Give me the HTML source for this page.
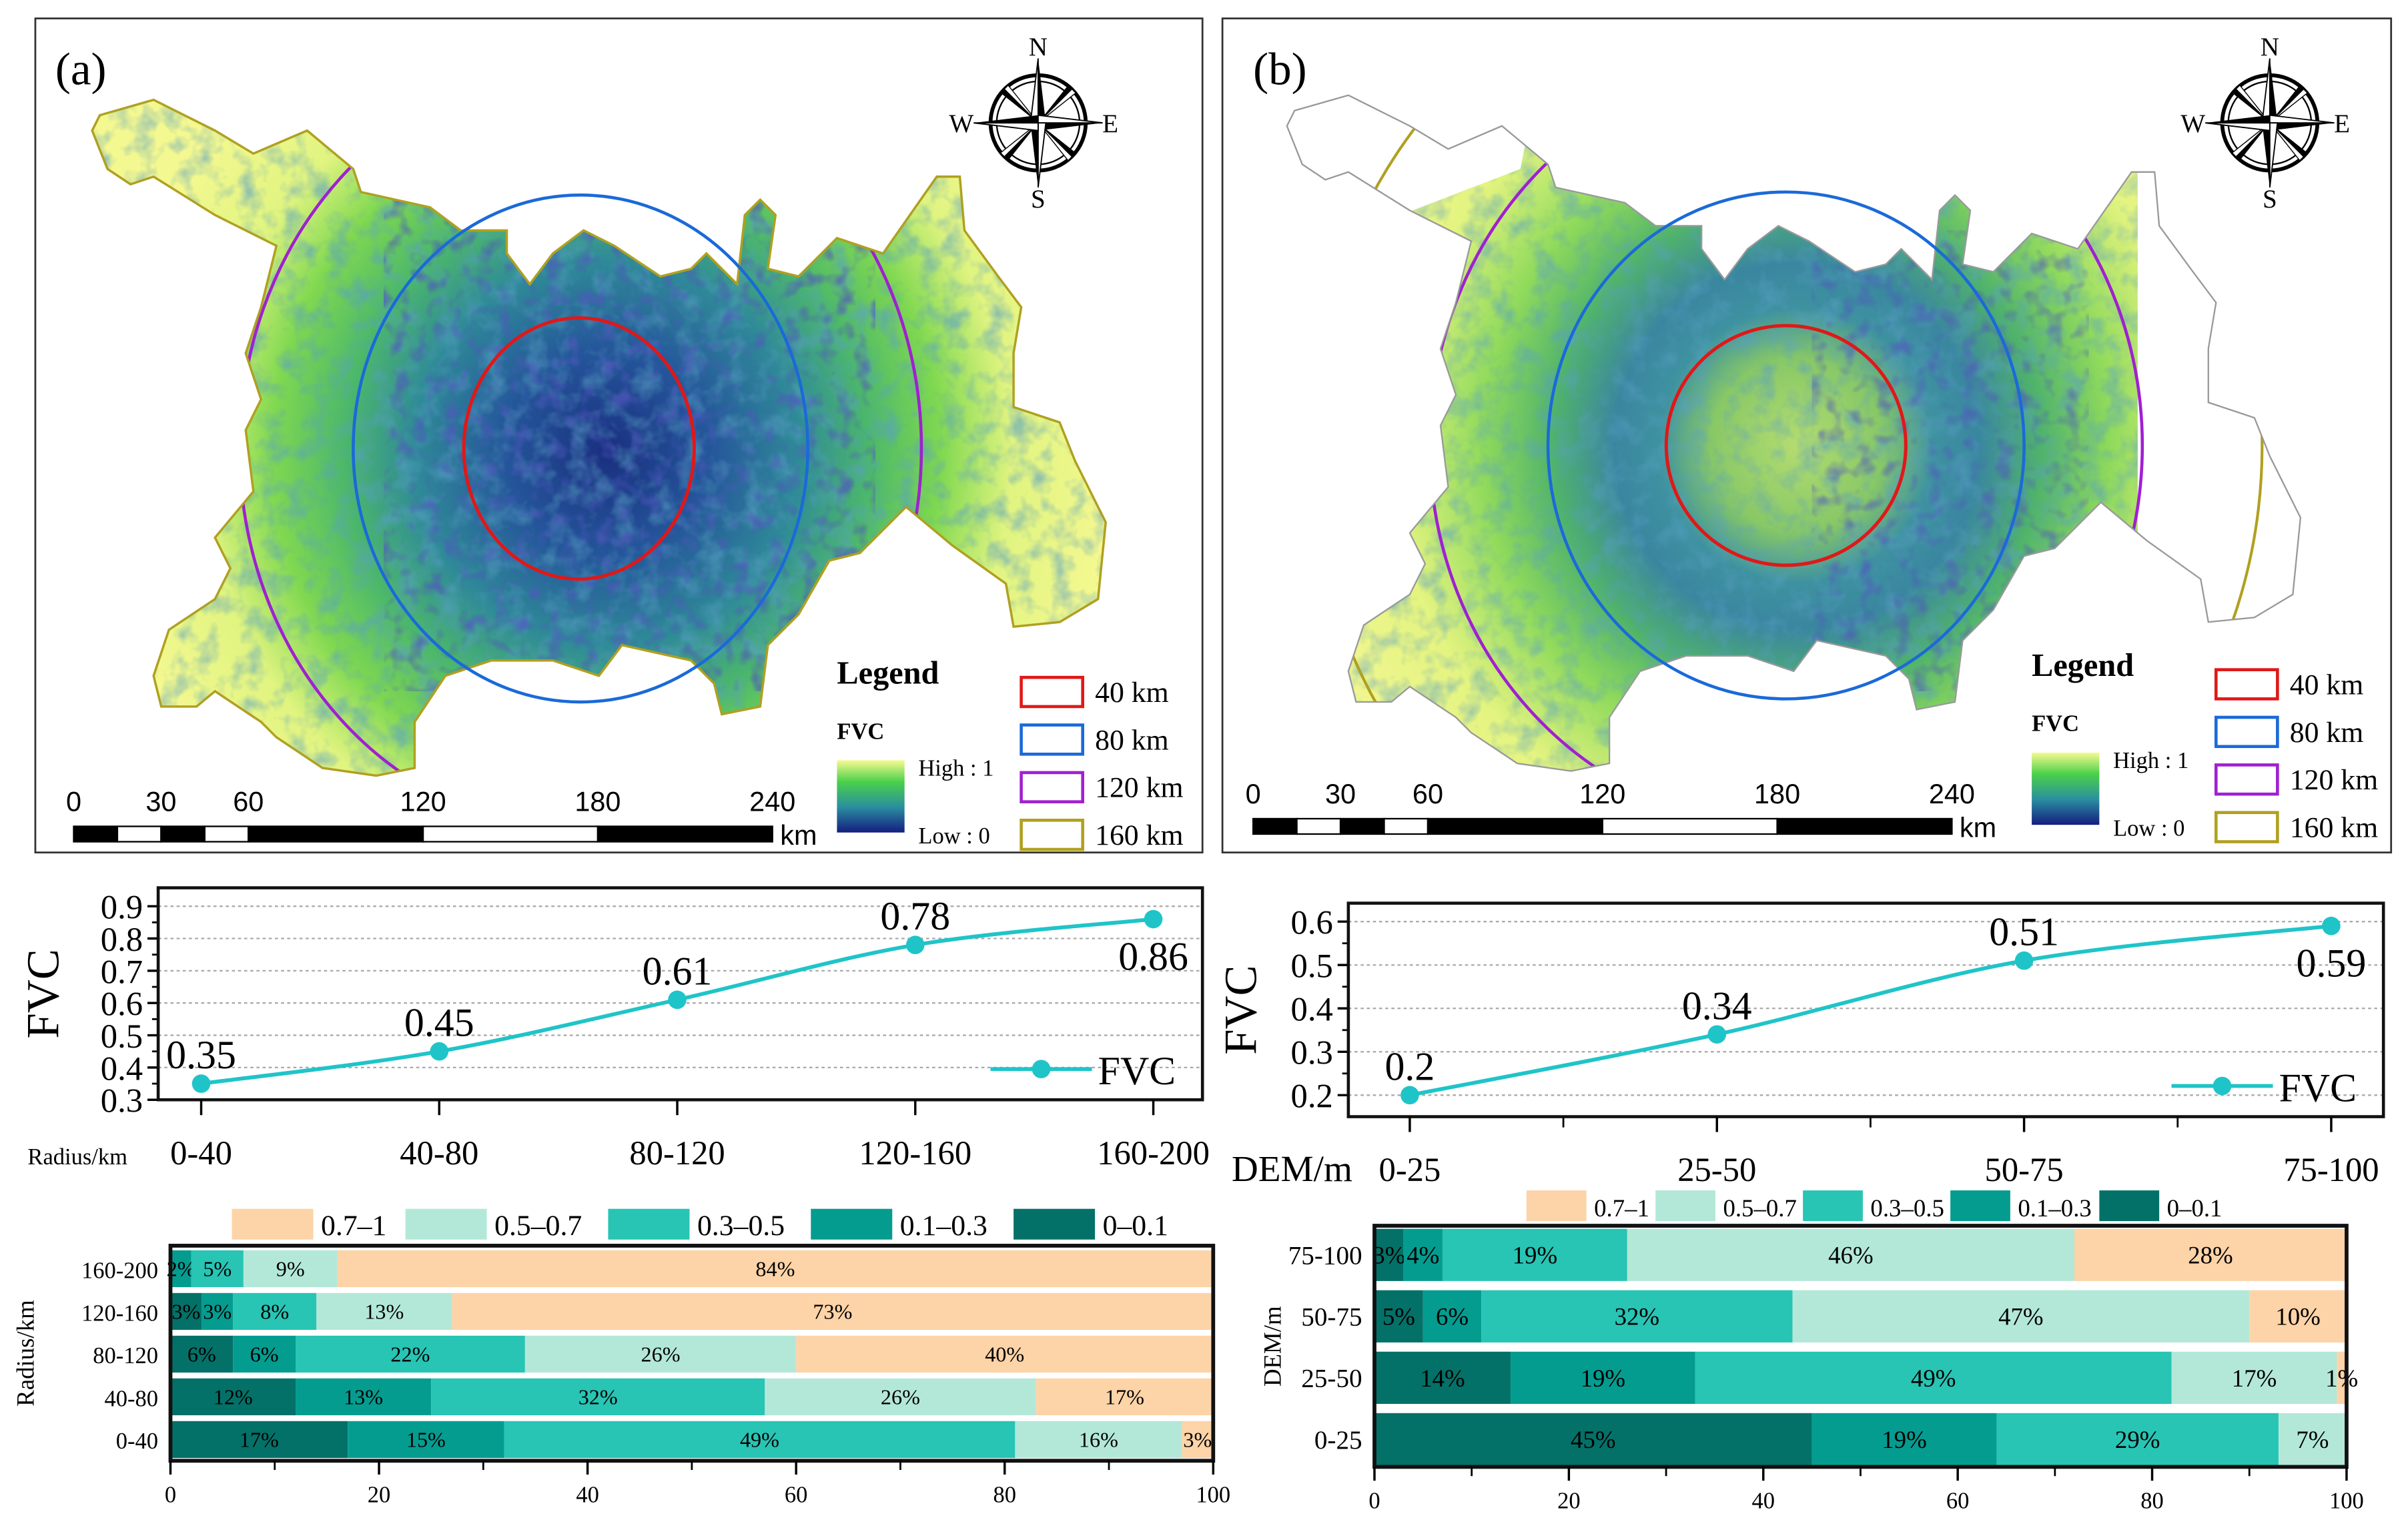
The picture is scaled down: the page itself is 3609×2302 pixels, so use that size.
<!DOCTYPE html>
<html><head><meta charset="utf-8"><style>
html,body{margin:0;padding:0;background:#fff;}
svg{display:block;font-family:"Liberation Serif",serif;}
</style></head><body>
<svg id="root" width="3609" height="2302" viewBox="0 0 1568 1000" preserveAspectRatio="none" xmlns="http://www.w3.org/2000/svg">
<defs>
<radialGradient id="gA" gradientUnits="userSpaceOnUse" cx="395" cy="295" r="330">
<stop offset="0" stop-color="#1a2f80"/><stop offset="0.2" stop-color="#24559a"/><stop offset="0.38" stop-color="#2f8a98"/><stop offset="0.52" stop-color="#4cb86a"/><stop offset="0.66" stop-color="#80d850"/><stop offset="0.8" stop-color="#e0f480"/><stop offset="1" stop-color="#f4f890"/></radialGradient>
<radialGradient id="gB" gradientUnits="userSpaceOnUse" cx="1170" cy="290" r="330">
<stop offset="0" stop-color="#b4dc70"/><stop offset="0.17" stop-color="#88c866"/><stop offset="0.27" stop-color="#3e92a0"/><stop offset="0.36" stop-color="#3a86a0"/><stop offset="0.48" stop-color="#4fb26c"/><stop offset="0.62" stop-color="#90da5c"/><stop offset="0.8" stop-color="#e4f480"/><stop offset="1" stop-color="#f0f690"/></radialGradient>
<linearGradient id="gLeg" x1="0" y1="0" x2="0" y2="1"><stop offset="0" stop-color="#f6fa90"/><stop offset="0.3" stop-color="#4ad04a"/><stop offset="0.65" stop-color="#2a8ea0"/><stop offset="1" stop-color="#141e80"/></linearGradient>
<filter id="noise" x="0" y="0" width="100%" height="100%"><feTurbulence type="fractalNoise" baseFrequency="0.07" numOctaves="3" seed="4"/><feColorMatrix type="matrix" values="0 0 0 0 0.1  0 0 0 0 0.35  0 0 0 0 0.55  0 0 0 -2.4 1.35"/></filter>
<filter id="noise2" x="0" y="0" width="100%" height="100%"><feTurbulence type="fractalNoise" baseFrequency="0.09" numOctaves="2" seed="9"/><feColorMatrix type="matrix" values="0 0 0 0 0.08  0 0 0 0 0.1  0 0 0 0 0.5  0 0 0 -3 1.5"/></filter>
<clipPath id="landA"><path id="landPathA" d="M60,85 L65,75 L100,65 L140,85 L165,100 L200,85 L230,110 L235,125 L280,135 L300,150 L330,150 L330,165 L345,185 L360,165 L380,150 L400,160 L430,180 L450,175 L460,165 L480,185 L485,140 L495,130 L505,140 L500,175 L520,180 L545,155 L575,165 L610,115 L625,115 L628,150 L650,180 L665,200 L660,230 L660,265 L690,275 L700,300 L720,340 L715,390 L690,405 L660,408 L655,380 L620,355 L590,330 L560,360 L540,365 L520,400 L500,420 L495,460 L470,465 L465,445 L450,430 L405,420 L390,440 L360,430 L320,430 L290,440 L270,470 L270,500 L245,505 L210,500 L180,480 L170,470 L140,450 L128,460 L105,460 L100,440 L110,410 L140,390 L150,370 L140,350 L165,320 L160,280 L170,260 L160,230 L170,200 L180,160 L140,140 L100,115 L85,120 L70,110 Z"/></clipPath>
<clipPath id="landB"><use href="#landPathA" transform="translate(778,-3)"/></clipPath>
<clipPath id="landBin"><path d="M860,160 L990,110 L1000,60 L1392,60 L1392,520 L860,520 Z"/></clipPath>
</defs>

<!-- Panel (a) map -->
<g>
<rect x="23" y="12" width="760" height="543" fill="#fff" stroke="#333" stroke-width="1.2"/>
<text x="36" y="55" font-size="30">(a)</text>
<g clip-path="url(#landA)">
<rect x="50" y="60" width="680" height="460" fill="url(#gA)"/>
<rect x="50" y="60" width="680" height="460" filter="url(#noise)" opacity="0.6"/>
<rect x="250" y="130" width="320" height="320" filter="url(#noise2)" opacity="0.7"/>
<ellipse cx="378" cy="292" rx="222" ry="248" fill="none" stroke="#a020d0" stroke-width="2"/>
</g>
<use href="#landPathA" fill="none" stroke="#b0a020" stroke-width="1.5"/>
<ellipse cx="378" cy="292" rx="148" ry="165" fill="none" stroke="#1a6ad8" stroke-width="2"/>
<ellipse cx="377" cy="292" rx="75" ry="85" fill="none" stroke="#e01818" stroke-width="2.2"/>
</g>

<!-- Panel (b) map -->
<g>
<rect x="796" y="12" width="761" height="543" fill="#fff" stroke="#333" stroke-width="1.2"/>
<text x="816" y="55" font-size="30">(b)</text>
<g clip-path="url(#landB)">
<g clip-path="url(#landBin)">
<rect x="820" y="60" width="700" height="460" fill="url(#gB)"/>
<rect x="820" y="60" width="700" height="460" filter="url(#noise)" opacity="0.55"/>
<rect x="1180" y="150" width="180" height="300" filter="url(#noise2)" opacity="0.6"/>
</g>
<ellipse cx="1163" cy="290" rx="232" ry="248" fill="none" stroke="#a020d0" stroke-width="2"/>
<ellipse cx="1163" cy="290" rx="310" ry="330" fill="none" stroke="#b0a020" stroke-width="1.8"/>
</g>
<use href="#landPathA" transform="translate(778,-3)" fill="none" stroke="#999" stroke-width="1"/>
<ellipse cx="1163" cy="290" rx="155" ry="165" fill="none" stroke="#1a6ad8" stroke-width="2"/>
<ellipse cx="1163" cy="290" rx="78" ry="78" fill="none" stroke="#e01818" stroke-width="2.2"/>
</g>

<g id="decor"></g>
<g id="lineA"></g>
<g id="lineB"></g>
<g id="barA"></g>
<g id="barB"></g>
</svg>
<script>
// ---------- data ----------
const radiusCats = ["0-40","40-80","80-120","120-160","160-200"];
const radiusFVC = [0.35,0.45,0.61,0.78,0.86];
const radiusTicks = [0.3,0.4,0.5,0.6,0.7,0.8,0.9];
const demCats = ["0-25","25-50","50-75","75-100"];
const demFVC = [0.2,0.34,0.51,0.59];
const demTicks = [0.2,0.3,0.4,0.5,0.6];
const classNames = ["0-0.1","0.1-0.3","0.3-0.5","0.5-0.7","0.7-1"];
const legendOrder = ["0.7-1","0.5-0.7","0.3-0.5","0.1-0.3","0-0.1"];
const barRowsA = ["160-200","120-160","80-120","40-80","0-40"];
const barA_c1 = [0,3,6,12,17];
const barA_c2 = [2,3,6,13,15];
const barA_c3 = [5,8,22,32,49];
const barA_c4 = [9,13,26,26,16];
const barA_c5 = [84,73,40,17,3];
const barRowsB = ["75-100","50-75","25-50","0-25"];
const barB_c1 = [3,5,14,45];
const barB_c2 = [4,6,19,19];
const barB_c3 = [19,32,49,29];
const barB_c4 = [46,47,17,7];
const barB_c5 = [28,10,1,0];
const barTicks = [0,20,40,60,80,100];
const scaleLabels = [0,30,60,120,180,240];
const ringLabels = ["40 km","80 km","120 km","160 km"];

const NS="http://www.w3.org/2000/svg";
function mk(parent,tag,attrs,text){const e=document.createElementNS(NS,tag);for(const k in attrs)e.setAttribute(k,attrs[k]);if(text!==undefined)e.textContent=text;parent.appendChild(e);return e;}
const colors={"0-0.1":"#037168","0.1-0.3":"#059c90","0.3-0.5":"#28c4b4","0.5-0.7":"#b3e8d8","0.7-1":"#fdd3a8"};
const lineCol="#1fc4c8";

// ---------- map decorations ----------
const decor=document.getElementById('decor');
function compass(cx,cy,name){
  const g=mk(decor,'g',{});
  
  
  mk(g,'circle',{cx:cx,cy:cy,r:31,fill:'#fff',stroke:'#000','stroke-width':2.5});
  mk(g,'circle',{cx:cx,cy:cy,r:27,fill:'none',stroke:'#000','stroke-width':1});
  [[1,1],[1,-1],[-1,1],[-1,-1]].forEach(d=>{
    mk(g,'polygon',{points:`${cx},${cy} ${cx+d[0]*22+d[1]*2.5},${cy+d[1]*22-d[0]*2.5} ${cx+d[0]*22},${cy+d[1]*22}`,fill:'#000'});
    mk(g,'polygon',{points:`${cx},${cy} ${cx+d[0]*22-d[1]*2.5},${cy+d[1]*22+d[0]*2.5} ${cx+d[0]*22},${cy+d[1]*22}`,fill:'#fff',stroke:'#000','stroke-width':0.6});
  });
  [[0,-1],[1,0],[0,1],[-1,0]].forEach(d=>{
    const tx=cx+d[0]*42,ty=cy+d[1]*42;
    mk(g,'polygon',{points:`${cx},${cy} ${cx-d[1]*5},${cy+d[0]*5} ${tx},${ty}`,fill:'#000'});
    mk(g,'polygon',{points:`${cx},${cy} ${cx+d[1]*5},${cy-d[0]*5} ${tx},${ty}`,fill:'#fff',stroke:'#000','stroke-width':0.8});
  });
  mk(g,'text',{x:cx,y:cy-44,'font-size':17,'text-anchor':'middle'},'N');
  mk(g,'text',{x:cx,y:cy+55,'font-size':17,'text-anchor':'middle'},'S');
  mk(g,'text',{x:cx-50,y:cy+6,'font-size':17,'text-anchor':'middle'},'W');
  mk(g,'text',{x:cx+47,y:cy+6,'font-size':17,'text-anchor':'middle'},'E');
}
compass(676,80,'compass-a');
compass(1478,80,'compass-b');

function scaleBar(x0,x1,y,ly,name){
  const g=mk(decor,'g',{});
  
  
  const k=(x1-x0)/240;
  const segs=[[0,15,'#000'],[15,30,'#fff'],[30,45,'#000'],[45,60,'#fff'],[60,120,'#000'],[120,180,'#fff'],[180,240,'#000']];
  segs.forEach(s=>mk(g,'rect',{x:x0+s[0]*k,y:y,width:(s[1]-s[0])*k,height:10,fill:s[2],stroke:'#000','stroke-width':1}));
  scaleLabels.forEach(v=>mk(g,'text',{x:x0+v*k,y:ly,'font-size':18,'text-anchor':'middle','font-family':'Liberation Sans, sans-serif'},String(v)));
  mk(g,'text',{x:x1+5,y:y+12,'font-size':18,'font-family':'Liberation Sans, sans-serif'},'km');
}
scaleBar(48,503,538,528,'scale-bar-a');
scaleBar(816,1271,533,523,'scale-bar-b');

function mapLegend(x,y,bx,name){
  const g=mk(decor,'g',{});
  
  
  mk(g,'text',{x:x,y:y,'font-size':21,'font-weight':'bold'},'Legend');
  mk(g,'text',{x:x,y:y+36,'font-size':15,'font-weight':'bold'},'FVC');
  mk(g,'rect',{x:x,y:y+50,width:44,height:47,fill:'url(#gLeg)'});
  mk(g,'text',{x:x+53,y:y+60,'font-size':15},'High : 1');
  mk(g,'text',{x:x+53,y:y+104,'font-size':15},'Low : 0');
  const cs=['#e01818','#1a6ad8','#a020d0','#b0a020'];
  ringLabels.forEach((t,i)=>{
    mk(g,'rect',{x:bx,y:y-4+i*31,width:40,height:19,fill:'none',stroke:cs[i],'stroke-width':2});
    mk(g,'text',{x:bx+48,y:y+12+i*31,'font-size':19},t);
  });
}
mapLegend(545,445,665,'map-legend-a');
mapLegend(1323,440,1443,'map-legend-b');

// ---------- line charts ----------
function smoothPath(pts){
  let d=`M${pts[0][0]},${pts[0][1]}`;
  for(let i=0;i<pts.length-1;i++){
    const p0=pts[Math.max(0,i-1)],p1=pts[i],p2=pts[i+1],p3=pts[Math.min(pts.length-1,i+2)];
    const c1=[p1[0]+(p2[0]-p0[0])/6,p1[1]+(p2[1]-p0[1])/6];
    const c2=[p2[0]-(p3[0]-p1[0])/6,p2[1]-(p3[1]-p1[1])/6];
    d+=` C${c1[0]},${c1[1]} ${c2[0]},${c2[1]} ${p2[0]},${p2[1]}`;
  }
  return d;
}
function lineChart(gid,cats,vals,ticks,box,xs,yMin,yMax,yTop,yBot,xTitle,xTitleX,xTitleSize,ylabX,minor){
  const g=document.getElementById(gid);
  
  
  const yS=v=>yBot-(v-yMin)/(yMax-yMin)*(yBot-yTop);
  ticks.forEach(t=>{
    const y=yS(t);
    const gl=mk(g,'line',{x1:box.l,x2:box.r,y1:y,y2:y,stroke:'#aaa','stroke-width':1,'stroke-dasharray':'2,2'});
    
    
    mk(g,'line',{x1:box.l-7,x2:box.l,y1:y,y2:y,stroke:'#000','stroke-width':1.5});
    const tl=mk(g,'text',{x:box.l-10,y:y+8,'font-size':22,'text-anchor':'end'},t.toFixed(1));
    
    
  });
  for(let i=0;i<ticks.length-1;i++){const y=yS((ticks[i]+ticks[i+1])/2);mk(g,'line',{x1:box.l-4,x2:box.l,y1:y,y2:y,stroke:'#000','stroke-width':1.2});}
  mk(g,'rect',{x:box.l,y:box.t,width:box.r-box.l,height:box.b-box.t,fill:'none',stroke:'#111','stroke-width':2});
  cats.forEach((c,i)=>{
    mk(g,'line',{x1:xs[i],x2:xs[i],y1:box.b,y2:box.b+10,stroke:'#000','stroke-width':1.5});
    const tl=mk(g,'text',{x:xs[i],y:box.b+42,'font-size':22,'text-anchor':'middle'},c);
    
    
  });
  if(minor){for(let i=0;i<xs.length-1;i++){const x=(xs[i]+xs[i+1])/2;mk(g,'line',{x1:x,x2:x,y1:box.b,y2:box.b+7,stroke:'#000','stroke-width':1.2});}}
  const xt=mk(g,'text',{x:xTitleX,y:box.b+42,'font-size':xTitleSize},xTitle);
  
  
  const yt=mk(g,'text',{x:ylabX,y:(box.t+box.b)/2,'font-size':30,'text-anchor':'middle',transform:`rotate(-90 ${ylabX} ${(box.t+box.b)/2})`},'FVC');
  
  
  const pts=vals.map((v,i)=>[xs[i],yS(v)]);
  const ln=mk(g,'path',{d:smoothPath(pts),fill:'none',stroke:lineCol,'stroke-width':2.5});
  
  
  pts.forEach((p,i)=>{
    const c=mk(g,'circle',{cx:p[0],cy:p[1],r:6,fill:lineCol});
    
    
    const last=i===pts.length-1;
    const lb=mk(g,'text',{x:p[0],y:last?p[1]+33:p[1]-10,'font-size':26,'text-anchor':'middle'},String(vals[i]));
    
    
  });
  const lg=mk(g,'g',{});
  
  
  const ly=box.b-20;
  mk(lg,'line',{x1:box.r-138,x2:box.r-72,y1:ly,y2:ly,stroke:lineCol,'stroke-width':2.5});
  mk(lg,'circle',{cx:box.r-105,cy:ly,r:6,fill:lineCol});
  mk(lg,'text',{x:box.r-68,y:ly+10,'font-size':26},'FVC');
}
lineChart('lineA',radiusCats,radiusFVC,radiusTicks,{l:103,r:783,t:578,b:716},[131,286,441,596,751],0.3,0.9,590,716,'Radius/km',18,15,38,false);
lineChart('lineB',demCats,demFVC,demTicks,{l:878,r:1552,t:588,b:727},[918,1118,1318,1518],0.2,0.6,600,713,'DEM/m',802,24,818,true);

// ---------- stacked bars ----------
function barChart(gid,rows,series,box,rowTop,rowStep,barH,fs,legY,legX,legW,legTextSize,yTitle,yTitleX){
  const g=document.getElementById(gid);
  
  
  const xS=v=>box.l+v/100*(box.r-box.l);
  legendOrder.forEach((n,i)=>{
    const sw=mk(g,'rect',{x:legX[i],y:legY-10,width:legW,height:20,fill:colors[n]});
    
    
    const t=mk(g,'text',{x:legX[i]+legW+5,y:legY+7,'font-size':legTextSize},n.replace('-','\u2013'));
    
    
  });
  rows.forEach((r,ri)=>{
    const cy=rowTop+ri*rowStep;
    let acc=0;
    series.forEach((s,si)=>{
      const v=s[ri];
      const seg=mk(g,'rect',{x:xS(acc),y:cy-barH/2,width:xS(acc+v)-xS(acc),height:barH,fill:colors[classNames[si]]});
      
      
      if(v>0){
        const t=mk(g,'text',{x:xS(acc+v/2),y:cy+fs*0.35,'font-size':fs,'text-anchor':'middle'},v+'%');
        
        
      }
      acc+=v;
    });
    const cl=mk(g,'text',{x:box.l-8,y:cy+6,'font-size':fs+1,'text-anchor':'end'},r);
    
    
  });
  mk(g,'rect',{x:box.l,y:box.t,width:box.r-box.l,height:box.b-box.t,fill:'none',stroke:'#111','stroke-width':2.5});
  barTicks.forEach(t=>{
    mk(g,'line',{x1:xS(t),x2:xS(t),y1:box.b,y2:box.b+9,stroke:'#000','stroke-width':1.5});
    const tl=mk(g,'text',{x:xS(t),y:box.b+27,'font-size':15,'text-anchor':'middle'},String(t));
    
    
  });
  for(let i=0;i<barTicks.length-1;i++){const x=xS((barTicks[i]+barTicks[i+1])/2);mk(g,'line',{x1:x,x2:x,y1:box.b,y2:box.b+6,stroke:'#000','stroke-width':1.2});}
  const yc=(box.t+box.b)/2;
  const yt=mk(g,'text',{x:yTitleX,y:yc,'font-size':16,'text-anchor':'middle',transform:`rotate(-90 ${yTitleX} ${yc})`},yTitle);
  
  
}
barChart('barA',barRowsA,[barA_c1,barA_c2,barA_c3,barA_c4,barA_c5],{l:111,r:790,t:811,b:951},826,27.8,24,14,797,[151,264,396,528,660],53,19,'Radius/km',22);
barChart('barB',barRowsB,[barB_c1,barB_c2,barB_c3,barB_c4,barB_c5],{l:895,r:1528,t:798,b:955},817,40,34,16,785,[994,1078,1174,1270,1367],39,16,'DEM/m',834);
</script>
</body></html>
